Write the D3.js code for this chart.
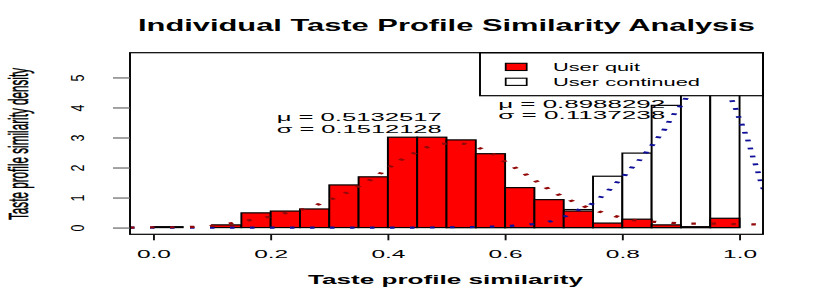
<!DOCTYPE html>
<html>
<head>
<meta charset="utf-8">
<script src="https://cdn.jsdelivr.net/npm/d3@7"></script>
<style>
  body { margin: 0; background: #fff; }
  svg { display: block; font-family: "Liberation Sans", Arial, sans-serif; }
</style>
</head>
<body>
<svg id="chart" width="830" height="300"></svg>
<script>
// histogram bins (width 0.05)
var binStarts = [0, 0.05, 0.1, 0.15, 0.2, 0.25, 0.3, 0.35, 0.4, 0.45,
                 0.5, 0.55, 0.6, 0.65, 0.7, 0.75, 0.8, 0.85, 0.9, 0.95];
var binWidth = 0.05;
var quitDensity = [0.03, 0, 0.09, 0.49, 0.55, 0.62, 1.42, 1.69, 3.01, 3.01,
                   2.92, 2.46, 1.33, 0.93, 0.55, 0.15, 0.28, 0.09, 0.03, 0.31];
var contDensity = [0, 0, 0, 0, 0, 0, 0, 0, 0, 0,
                   0.01, 0.02, 0.05, 0.12, 0.6, 1.71, 2.48, 4.07, 5.6, 5.3];

// density curves
var quitCurveX = [-0.04, -0.006, 0.028, 0.061, 0.095, 0.127, 0.159, 0.19, 0.219, 0.251,
                  0.277, 0.302, 0.325, 0.345, 0.366, 0.384, 0.402, 0.42, 0.44, 0.462,
                  0.491, 0.524, 0.554, 0.576, 0.596, 0.615, 0.633, 0.651, 0.669, 0.688,
                  0.709, 0.732, 0.758, 0.786, 0.816, 0.849, 0.883, 0.917, 0.95, 0.985, 1.019, 1.045];
var quitCurveY = [0, 0.01, 0.01, 0.02, 0.05, 0.12, 0.23, 0.33, 0.46, 0.59,
                  0.74, 0.93, 1.12, 1.32, 1.54, 1.76, 2.0, 2.23, 2.43, 2.64,
                  2.79, 2.8, 2.66, 2.49, 2.24, 2.02, 1.8, 1.57, 1.34, 1.13,
                  0.93, 0.73, 0.55, 0.39, 0.26, 0.2, 0.16, 0.13, 0.13, 0.12, 0.11, 0.1];
var contCurveX = [-0.04, 0.45, 0.5, 0.55, 0.6, 0.65, 0.675, 0.7, 0.725, 0.748,
                  0.765, 0.778, 0.792, 0.805, 0.817, 0.83, 0.841, 0.852, 0.862, 0.872,
                  0.88, 0.889, 0.899, 0.908, 0.93, 0.95, 0.97, 0.988, 0.994, 0.999,
                  1.005, 1.01, 1.015, 1.019, 1.023, 1.028, 1.032, 1.036, 1.045];
var contCurveY = [0, 0, 0.01, 0.02, 0.05, 0.12, 0.2, 0.36, 0.59, 0.79,
                  1.04, 1.26, 1.52, 1.76, 2.01, 2.26, 2.51, 2.77, 3.02, 3.27,
                  3.53, 3.8, 4.05, 4.29, 4.9, 5.1, 4.9, 4.19, 3.93, 3.66,
                  3.39, 3.12, 2.87, 2.6, 2.33, 2.06, 1.81, 1.54, 1.1];

var xTicks = [0, 0.2, 0.4, 0.6, 0.8, 1.0];
var yTicks = [0, 1, 2, 3, 4, 5];
var quitStats = ["\u03bc = 0.5132517", "\u03c3 = 0.1512128"];
var contStats = ["\u03bc = 0.8988292", "\u03c3 = 0.1137238"];
var legendLabels = ["User quit", "User continued"];

var svg = d3.select("#chart");
// plot box edges
var boxL = 130, boxR = 763, boxT = 52.7, boxB = 234.3;

var x = d3.scaleLinear().domain([-0.04, 1.04]).range([boxL, boxR]);
var y = d3.scaleLinear().domain([-0.224, 5.824]).range([boxB, boxT]);

// the original picture is stretched sideways, so draw in squeezed groups
var SB = 1.6, SC = 2.5;
var xb = x.copy().range([boxL / SB, boxR / SB]);
var xc = x.copy().range([boxL / SC, boxR / SC]);

svg.append("defs").append("clipPath").attr("id", "plotclip")
  .append("rect").attr("x", boxL).attr("y", boxT)
  .attr("width", boxR - boxL).attr("height", boxB - boxT);

var bars = svg.append("g").attr("transform", "scale(" + SB + ",1)");
var clipped = svg.append("g").attr("clip-path", "url(#plotclip)");

function drawBars(g, vals, fill) {
  g.selectAll(null).data(vals).enter().append("rect")
    .attr("x", function(d, i) { return xb(binStarts[i]); })
    .attr("width", function(d, i) { return xb(binStarts[i] + binWidth) - xb(binStarts[i]); })
    .attr("y", function(d) { return y(d); })
    .attr("height", function(d) { return y(0) - y(d); })
    .attr("fill", fill)
    .attr("stroke", "#000")
    .attr("stroke-width", 1.2);
}

function drawCurve(g, xs, ys, color) {
  var pts = xs.map(function(v, i) { return [v, ys[i]]; });
  g.append("g").attr("transform", "scale(" + SC + ",1)")
    .append("path")
    .datum(pts)
    .attr("fill", "none")
    .attr("stroke", color)
    .attr("stroke-width", 2.2)
    .attr("stroke-dasharray", "1.8 6.2")
    .attr("d", d3.line()
      .x(function(d) { return xc(d[0]); })
      .y(function(d) { return y(d[1]); })
      .curve(d3.curveMonotoneX));
}

drawBars(bars.append("g"), contDensity, "#fff");
drawCurve(clipped, contCurveX, contCurveY, "#0f0f9a");
drawBars(bars.append("g"), quitDensity, "#ff0000");
drawCurve(clipped, quitCurveX, quitCurveY, "#930808");

// legend (topright, white box)
var frame = svg.append("g").attr("transform", "scale(" + SB + ",1)");
frame.append("rect")
  .attr("x", 480 / SB).attr("y", boxT)
  .attr("width", (boxR - 480) / SB).attr("height", 95.7 - boxT)
  .attr("fill", "#fff").attr("stroke", "#000").attr("stroke-width", 1.2);
var legFill = ["#ff0000", "#fff"];
var legY = [63.3, 78.2];
frame.selectAll(null).data(legendLabels).enter().append("rect")
  .attr("x", 505.7 / SB).attr("width", 21 / SB)
  .attr("y", function(d, i) { return legY[i]; }).attr("height", 7.2)
  .attr("fill", function(d, i) { return legFill[i]; })
  .attr("stroke", "#000").attr("stroke-width", 1.1);
var legW = [87, 147], legBase = [71.4, 85.6];
svg.selectAll(null).data(legendLabels).enter().append("text")
  .attr("x", 553).attr("y", function(d, i) { return legBase[i]; })
  .attr("font-size", 11)
  .attr("textLength", function(d, i) { return legW[i]; })
  .attr("lengthAdjust", "spacingAndGlyphs")
  .text(function(d) { return d; });

// plot frame
frame.append("rect")
  .attr("x", boxL / SB).attr("y", boxT)
  .attr("width", (boxR - boxL) / SB).attr("height", boxB - boxT)
  .attr("fill", "none").attr("stroke", "#000").attr("stroke-width", 1.2);

// stats labels: one text block, two lines
function statText(lines, cx, bases, w) {
  var t = svg.append("text")
    .attr("text-anchor", "middle")
    .attr("font-size", 11.8);
  t.selectAll("tspan").data(lines).enter().append("tspan")
    .attr("x", cx).attr("y", function(d, i) { return bases[i]; })
    .attr("textLength", w)
    .attr("lengthAdjust", "spacingAndGlyphs")
    .text(function(d) { return d; });
}
statText(quitStats, 359.2, [121, 132.6], 165);
statText(contStats, 581.7, [107.6, 119.3], 167);

// x axis
var xAxis = svg.append("g")
  .attr("transform", "translate(0," + boxB + ")")
  .call(d3.axisBottom(x).tickValues(xTicks).tickSize(6).tickFormat(d3.format(".1f")));
xAxis.select(".domain").remove();
xAxis.selectAll(".tick line").attr("stroke", "#111").attr("stroke-width", 1.9);
xAxis.selectAll(".tick text")
  .attr("y", 24).attr("dy", null)
  .attr("font-size", 11).attr("fill", "#000")
  .attr("textLength", 34).attr("lengthAdjust", "spacingAndGlyphs");

// y axis
var yAxis = svg.append("g")
  .attr("transform", "translate(" + boxL + ",0)")
  .call(d3.axisLeft(y).tickValues(yTicks).tickSize(17).tickFormat(d3.format("d")));
yAxis.select(".domain").remove();
yAxis.selectAll(".tick line").attr("stroke", "#666").attr("stroke-width", 1.2);
yAxis.selectAll(".tick text")
  .attr("x", null).attr("dy", null)
  .attr("text-anchor", "middle")
  .attr("font-size", 12.5).attr("fill", "#000")
  .attr("transform", "translate(-46.5,0) scale(1.4,1) rotate(-90)");

// titles
svg.append("text")
  .attr("x", 446.5).attr("y", 31)
  .attr("text-anchor", "middle")
  .attr("font-size", 16.5).attr("font-weight", "bold")
  .attr("textLength", 617).attr("lengthAdjust", "spacingAndGlyphs")
  .text("Individual Taste Profile Similarity Analysis");

svg.append("text")
  .attr("x", 445.5).attr("y", 284)
  .attr("text-anchor", "middle")
  .attr("font-size", 12.5).attr("font-weight", "bold")
  .attr("textLength", 275).attr("lengthAdjust", "spacingAndGlyphs")
  .text("Taste profile similarity");

svg.append("text")
  .attr("transform", "translate(28,144) scale(2.4,1) rotate(-90)")
  .attr("text-anchor", "middle")
  .attr("font-size", 11.6)
  .attr("stroke", "#000").attr("stroke-width", 0.25)
  .attr("textLength", 152).attr("lengthAdjust", "spacingAndGlyphs")
  .text("Taste profile similarity density");
</script>
</body>
</html>
